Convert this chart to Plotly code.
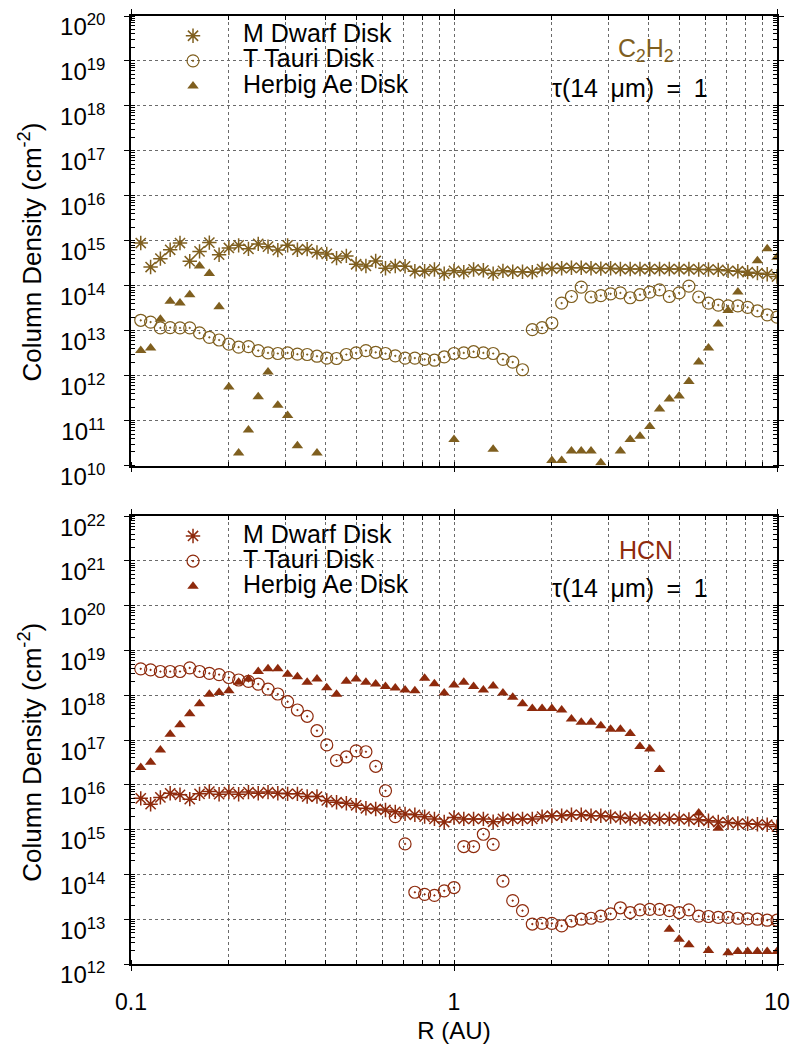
import plotly.graph_objects as go

# ---------------- data ----------------
R_AU = [0.1072, 0.1150, 0.1233, 0.1322, 0.1418, 0.1520, 0.1630, 0.1748, 0.1874, 0.2009,
        0.2154, 0.2310, 0.2477, 0.2656, 0.2848, 0.3054, 0.3275, 0.3511, 0.3765, 0.4037,
        0.4329, 0.4642, 0.4977, 0.5337, 0.5722, 0.6136, 0.6579, 0.7055, 0.7565, 0.8111,
        0.8698, 0.9326, 1.0000, 1.0723, 1.1498, 1.2329, 1.3220, 1.4175, 1.5199, 1.6298,
        1.7475, 1.8738, 2.0092, 2.1544, 2.3101, 2.4771, 2.6561, 2.8480, 3.0539, 3.2745,
        3.5112, 3.7649, 4.0370, 4.3288, 4.6416, 4.9770, 5.3367, 5.7224, 6.1359, 6.5793,
        7.0548, 7.5646, 8.1113, 8.6975, 9.3260, 10.000]

# C2H2 column densities (cm^-2)
c2h2_mdwarf = [8.9e14, 2.6e14, 4.0e14, 6.3e14, 8.9e14, 3.5e14, 5.8e14, 9.1e14, 4.9e14, 6.9e14,
               7.9e14, 6.6e14, 8.5e14, 7.4e14, 6.2e14, 7.9e14, 6.3e14, 6.5e14, 5.5e14, 5.1e14,
               4.1e14, 4.6e14, 3.0e14, 2.75e14, 3.55e14, 2.45e14, 2.75e14, 2.7e14, 2.1e14, 2.1e14,
               2.3e14, 1.86e14, 2.14e14, 2.0e14, 2.3e14, 2.2e14, 1.86e14, 2.14e14, 2.05e14, 2.05e14,
               2.0e14, 2.35e14, 2.4e14, 2.45e14, 2.5e14, 2.5e14, 2.45e14, 2.4e14, 2.45e14, 2.35e14,
               2.35e14, 2.35e14, 2.35e14, 2.35e14, 2.35e14, 2.35e14, 2.35e14, 2.3e14, 2.3e14, 2.25e14,
               2.14e14, 2.1e14, 2.0e14, 1.9e14, 1.8e14, 1.6e14]
c2h2_ttauri = [1.7e13, 1.55e13, 1.15e13, 1.17e13, 1.15e13, 1.15e13, 8.9e12, 7.1e12, 6.2e12, 5.0e12,
               4.3e12, 4.4e12, 3.6e12, 3.2e12, 3.1e12, 3.2e12, 3.0e12, 2.95e12, 2.7e12, 2.45e12,
               2.4e12, 2.95e12, 3.2e12, 3.6e12, 3.3e12, 3.1e12, 2.75e12, 2.45e12, 2.45e12, 2.3e12,
               2.2e12, 2.6e12, 3.1e12, 3.2e12, 3.4e12, 3.2e12, 3.1e12, 2.3e12, 2.0e12, 1.35e12,
               1.05e13, 1.17e13, 1.48e13, 4.1e13, 5.75e13, 9.3e13, 5.6e13, 6.0e13, 6.6e13, 6.9e13,
               5.4e13, 6.3e13, 7.2e13, 8.1e13, 5.75e13, 6.9e13, 9.8e13, 5.6e13, 4.1e13, 3.7e13,
               3.55e13, 3.55e13, 3.3e13, 2.75e13, 2.25e13, 2.0e13]
c2h2_herbig = [3.6e12, 4.1e12, 1.8e13, 4.5e13, 4.1e13, 6.3e13, 2.75e14, 1.86e14, 3.4e13, 5.6e11,
               1.9e10, 6.2e10, 3.4e11, 1.2e12, 2.2e11, 1.3e11, 2.75e10, None, 1.9e10, None,
               None, None, None, None, None, None, None, None, None, None,
               None, None, 3.8e10, None, None, None, 2.3e10, None, None, None,
               None, None, 1.3e10, 1.3e10, 2.1e10, 2.1e10, 2.1e10, 1.15e10, None, 2.1e10,
               3.8e10, 4.5e10, 7.4e10, 1.8e11, 3.0e11, 3.5e11, 7.4e11, 2.0e12, 4.1e12, 1.4e13,
               2.8e13, 7.2e13, 1.86e14, 3.6e14, 6.6e14, 4.3e14]

# HCN column densities (cm^-2)
hcn_mdwarf = [5.0e15, 3.7e15, 5.25e15, 6.5e15, 6.0e15, 4.8e15, 6.3e15, 7.1e15, 6.2e15, 6.9e15,
              6.2e15, 6.9e15, 6.5e15, 6.9e15, 6.5e15, 6.3e15, 6.3e15, 5.5e15, 5.5e15, 4.5e15,
              4.1e15, 3.9e15, 3.5e15, 3.0e15, 2.9e15, 2.75e15, 2.5e15, 2.25e15, 2.15e15, 1.95e15,
              1.74e15, 1.48e15, 1.86e15, 1.74e15, 1.74e15, 1.74e15, 1.5e15, 1.74e15, 1.74e15, 1.74e15,
              1.74e15, 1.95e15, 2.05e15, 2.05e15, 2.15e15, 2.15e15, 2.05e15, 2.05e15, 1.95e15, 1.86e15,
              1.78e15, 1.74e15, 1.74e15, 1.74e15, 1.74e15, 1.74e15, 1.7e15, 1.66e15, 1.58e15, 1.48e15,
              1.45e15, 1.38e15, 1.35e15, 1.32e15, 1.29e15, 1.17e15]
hcn_ttauri = [3.9e18, 3.7e18, 3.4e18, 3.4e18, 3.4e18, 4.1e18, 3.4e18, 3.1e18, 2.9e18, 2.5e18,
              2.2e18, 2.05e18, 1.78e18, 1.38e18, 1.07e18, 7.2e17, 4.7e17, 3.4e17, 1.62e17, 7.8e16,
              3.5e16, 4.2e16, 5.75e16, 5.5e16, 2.6e16, 7.4e15, 1.95e15, 4.8e14, 4.0e13, 3.6e13,
              3.4e13, 4.3e13, 5.1e13, 4.2e14, 4.2e14, 7.9e14, 4.7e14, 7.1e13, 2.6e13, 1.55e13,
              7.8e12, 8.1e12, 8.1e12, 7.1e12, 9.1e12, 1.0e13, 1.05e13, 1.17e13, 1.32e13, 1.8e13,
              1.41e13, 1.62e13, 1.66e13, 1.66e13, 1.55e13, 1.41e13, 1.62e13, 1.17e13, 1.15e13, 1.1e13,
              1.1e13, 1.05e13, 1.02e13, 1.0e13, 9.5e12, 9.5e12]
hcn_herbig = [2.45e16, 3.2e16, 6.0e16, 1.35e17, 2.2e17, 3.9e17, 6.5e17, 1.05e18, 1.15e18, 1.26e18,
              1.95e18, 2.3e18, 3.4e18, 3.9e18, 3.9e18, 2.95e18, 2.6e18, 1.95e18, 2.3e18, 1.48e18,
              1.05e18, 2.05e18, 2.3e18, 1.95e18, 1.78e18, 1.58e18, 1.45e18, 1.32e18, 1.26e18, 2.4e18,
              1.82e18, 1.12e18, 1.7e18, 1.95e18, 1.58e18, 1.32e18, 1.62e18, 1.12e18, 9.1e17, 6.5e17,
              5.1e17, 5.1e17, 5.1e17, 4.7e17, 2.95e17, 2.5e17, 2.5e17, 2.1e17, 1.74e17, 1.74e17,
              1.41e17, 7.2e16, 6.3e16, 2.2e16, 6.0e12, 3.55e12, 2.7e12, 2.35e15, 2.0e12, 1.07e15,
              1.78e12, 1.9e12, 1.9e12, 1.9e12, 1.9e12, 1.9e12]

SERIES_NAMES = ["M Dwarf Disk", "T Tauri Disk", "Herbig Ae Disk"]
X_TICKS = [0.1, 1, 10]
X_TICK_TEXT = ["0.1", "1", "10"]
Y_TOP_TICKS = [1e10, 1e11, 1e12, 1e13, 1e14, 1e15, 1e16, 1e17, 1e18, 1e19, 1e20]
Y_TOP_TEXT = ["10<sup>10</sup>", "10<sup>11</sup>", "10<sup>12</sup>", "10<sup>13</sup>",
              "10<sup>14</sup>", "10<sup>15</sup>", "10<sup>16</sup>", "10<sup>17</sup>",
              "10<sup>18</sup>", "10<sup>19</sup>", "10<sup>20</sup>"]
Y_BOT_TICKS = [1e12, 1e13, 1e14, 1e15, 1e16, 1e17, 1e18, 1e19, 1e20, 1e21, 1e22]
Y_BOT_TEXT = ["10<sup>12</sup>", "10<sup>13</sup>", "10<sup>14</sup>", "10<sup>15</sup>",
              "10<sup>16</sup>", "10<sup>17</sup>", "10<sup>18</sup>", "10<sup>19</sup>",
              "10<sup>20</sup>", "10<sup>21</sup>", "10<sup>22</sup>"]
Y_TITLE = "Column Density (cm<sup>-2</sup>)"
X_TITLE = "R (AU)"

# ---------------- style ----------------
FONT = "Liberation Sans"
TOP_COLOR = "#7f5f1f"
BOT_COLOR = "#8e2a0c"
GRID = "#6a6a6a"

fig = go.Figure()


def add_panel(ys, color, xa, ya, legend):
    styles = [
        dict(symbol="asterisk-open", size=12, line=dict(width=1.5, color=color)),
        dict(symbol="circle-open-dot", size=12, line=dict(width=1.2, color=color)),
        dict(symbol="triangle-up", size=10, line=dict(width=0)),
    ]
    for y, name, st in zip(ys, SERIES_NAMES, styles):
        fig.add_trace(go.Scatter(
            x=R_AU, y=y, mode="markers", xaxis=xa, yaxis=ya, legend=legend,
            name='<span style="font-size:25px">' + name + "</span>",
            marker=dict(color=color, **st),
        ))


add_panel([c2h2_mdwarf, c2h2_ttauri, c2h2_herbig], TOP_COLOR, "x", "y", "legend")
add_panel([hcn_mdwarf, hcn_ttauri, hcn_herbig], BOT_COLOR, "x2", "y2", "legend2")

PLOT_H = 948.0
BOTTOM = 964.0


def py(p):
    return (BOTTOM - p) / PLOT_H


def px(p):
    return (p - 131) / 646.0


def xaxis_common(show_labels):
    return dict(
        type="log", range=[-1, 1], tickmode="array", tickvals=X_TICKS, ticktext=X_TICK_TEXT,
        showticklabels=show_labels, ticks="outside", ticklen=5, tickcolor="black",
        showgrid=True, gridcolor=GRID, griddash="dot", gridwidth=1,
        minor=dict(dtick="D1", ticks="inside", ticklen=4, tickcolor="black",
                   showgrid=True, gridcolor=GRID, griddash="dot", gridwidth=1),
        showline=True, linecolor="black", linewidth=1.5, mirror="allticks",
        zeroline=False, tickfont=dict(family=FONT, size=23, color="black"),
        ticklabelstandoff=12, automargin=False, ticklabeloverflow="allow",
    )


def yaxis_common(rng, vals, text, domain):
    return dict(
        type="log", range=rng, domain=domain, tickmode="array", tickvals=vals, ticktext=text,
        ticks="outside", ticklen=5, tickcolor="black",
        showgrid=True, gridcolor=GRID, griddash="dot", gridwidth=1,
        minor=dict(dtick="D1", ticks="inside", ticklen=4, tickcolor="black", showgrid=False),
        showline=True, linecolor="black", linewidth=1.5, mirror="allticks",
        zeroline=False, tickfont=dict(family=FONT, size=24, color="black"),
        ticklabelstandoff=14, ticklabelshift=11, automargin=False, ticklabeloverflow="allow",
    )


fig.update_layout(
    width=790, height=1048,
    margin=dict(l=131, r=13, t=16, b=84, autoexpand=False),
    paper_bgcolor="white", plot_bgcolor="white",
    font=dict(family=FONT, color="black"),
    xaxis=dict(anchor="y", **xaxis_common(False)),
    yaxis=dict(anchor="x", **yaxis_common([10, 20], Y_TOP_TICKS, Y_TOP_TEXT, [1 - 449.5 / PLOT_H, 1])),
    xaxis2=dict(anchor="y2", title=dict(text=X_TITLE, font=dict(family=FONT, size=24, color="black"),
                                        standoff=8), **xaxis_common(True)),
    yaxis2=dict(anchor="x2", **yaxis_common([12, 22], Y_BOT_TICKS, Y_BOT_TEXT, [0, 447.8 / PLOT_H])),
    legend=dict(x=0.0186, y=py(18.2), xanchor="left", yanchor="top", bgcolor="rgba(0,0,0,0)",
                itemwidth=90, font=dict(family=FONT, size=17, color="black"), tracegroupgap=0),
    legend2=dict(x=0.0186, y=py(518.4), xanchor="left", yanchor="top", bgcolor="rgba(0,0,0,0)",
                 itemwidth=90, font=dict(family=FONT, size=17, color="black"), tracegroupgap=0),
    showlegend=True,
)

# white key boxes hiding the grid
for off in (0.0, 500.2):
    for x0, x1 in ((145, 452), (549, 745)):
        fig.add_shape(type="rect", xref="paper", yref="paper", layer="between",
                      x0=px(x0), x1=px(x1), y0=py(99 + off), y1=py(21 + off),
                      fillcolor="white", line=dict(width=0))

# y-axis titles (one per panel)
for yc in (252.5, 752.7):
    fig.add_annotation(text=Y_TITLE, xref="paper", yref="paper", x=px(31), y=py(yc),
                       xanchor="center", yanchor="middle", textangle=-90, showarrow=False,
                       font=dict(family=FONT, size=26, color="black"))

SP = "\u2002"
annos = [
    ("C<sub>2</sub>H<sub>2</sub>", 646, 50, TOP_COLOR),
    ("τ(14" + SP + "μm)" + SP + "=" + SP + "1", 630, 88, "black"),
    ("HCN", 646, 550, BOT_COLOR),
    ("τ(14" + SP + "μm)" + SP + "=" + SP + "1", 630, 588, "black"),
]
for txt, xp, yp, col in annos:
    fig.add_annotation(text=txt, xref="paper", yref="paper", x=px(xp), y=py(yp),
                       xanchor="center", yanchor="middle", showarrow=False,
                       font=dict(family=FONT, size=25, color=col))

fig.write_html("out.html")
